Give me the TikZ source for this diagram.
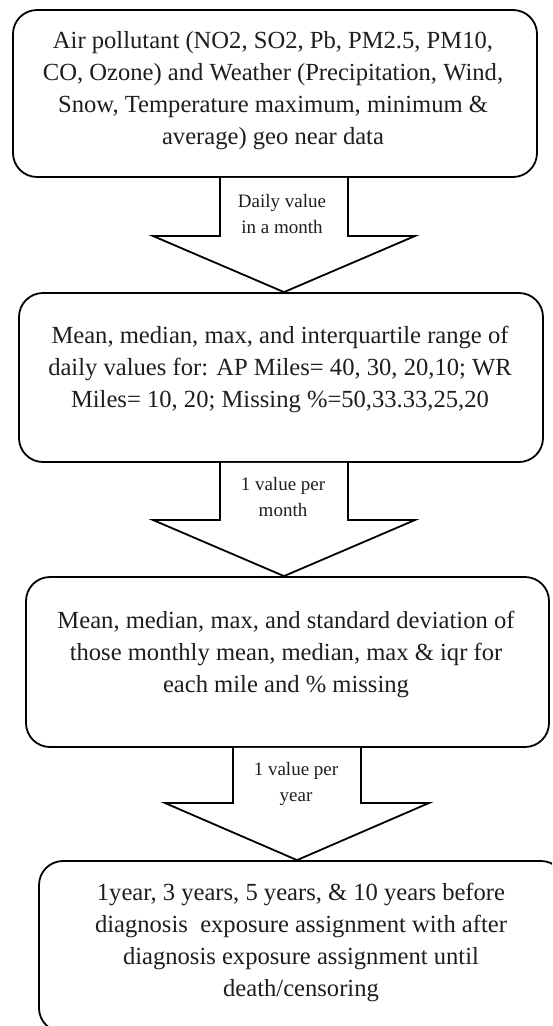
\documentclass[tikz,border=0pt]{standalone}
\usepackage{fontspec}
\setmainfont{Liberation Serif}
\usetikzlibrary{calc}
\definecolor{ink}{HTML}{1E1E1E}
\begin{document}
\begin{tikzpicture}[x=1pt,y=-1pt,
  stagebox/.style={draw=black, line width=1.8pt, rounded corners=24pt,
    fill=white, inner sep=0pt},
  stagetext/.style={text=ink, align=center, inner sep=0pt,
    font=\fontsize{24.6}{32}\selectfont},
  flowlabel/.style={text=ink, align=center, inner sep=0pt,
    font=\fontsize{19}{26}\selectfont},
  blockarrow/.style={draw=black, fill=white, line width=1.8pt, line join=miter}
]
\useasboundingbox (0,0) rectangle (552,1026);
\clip (0,0) rectangle (552,1026);

% processing stages
\node[stagebox, minimum width=524pt, minimum height=167pt] (b1) at (275,93.5) {};
\node[stagebox, minimum width=524pt, minimum height=169pt] (b2) at (281,377.5) {};
\node[stagebox, minimum width=523pt, minimum height=170pt] (b3) at (287.5,662) {};
\node[stagebox, minimum width=526pt, minimum height=171pt] (b4) at (302,946.5) {};

\node[stagetext] (t1) at (273,91) {Air pollutant (NO2, SO2, Pb, PM2.5, PM10,\\
  CO, Ozone) and Weather (Precipitation, Wind,\\
  Snow, Temperature maximum, minimum \&\\
  average) geo near data};
\node[stagetext] (t2) at (280,369) {Mean, median, max, and interquartile range of\\
  daily values for: AP Miles= 40, 30, 20,10; WR\\
  Miles= 10, 20; Missing \%=50,33.33,25,20};
\node[stagetext] (t3) at (286,654) {Mean, median, max, and standard deviation of\\
  those monthly mean, median, max \& iqr for\\
  each mile and \% missing};
\node[stagetext] (t4) at (301,942) {1year, 3 years, 5 years, \& 10 years before\\
  diagnosis\ \ exposure assignment with after\\
  diagnosis exposure assignment until\\
  death/censoring};

% block arrows between stages
\draw[blockarrow] (b1.south -| 220,0) -- (220,236) -- (153,236)
  -- (b2.north -| 284,0) -- (415,236) -- (348,236) -- (b1.south -| 348,0);
\draw[blockarrow] (b2.south -| 220,0) -- (220,520) -- (153,520)
  -- (b3.north -| 284,0) -- (415,520) -- (348,520) -- (b2.south -| 348,0);
\draw[blockarrow] (b3.south -| 233,0) -- (233,803) -- (165,803)
  -- (b4.north -| 297,0) -- (429,803) -- (361,803) -- (b3.south -| 361,0);

\node[flowlabel] (l1) at (282,214) {Daily value\\in a month};
\node[flowlabel] (l2) at (283,497) {1 value per\\month};
\node[flowlabel] (l3) at (296,784) {1 value per\\year};
\end{tikzpicture}
\end{document}
